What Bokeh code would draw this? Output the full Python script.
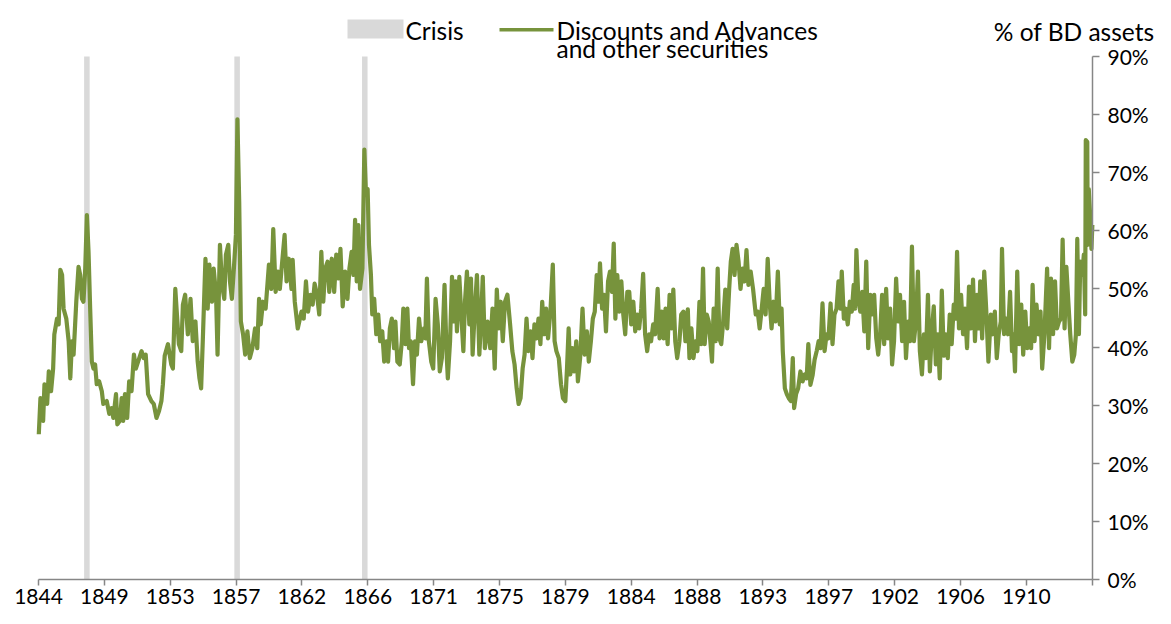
from bokeh.plotting import figure
from bokeh.models import FixedTicker, BoxAnnotation, Label, Range1d, PrintfTickFormatter
from bokeh.embed import file_html
from bokeh.resources import INLINE

# ---- data (fractional year, % of Banking Department assets) ----
years = [
    1844.72, 1844.83, 1845.01, 1845.10, 1845.28, 1845.39, 1845.54, 1845.68, 1845.76, 1845.94,
    1846.05, 1846.16, 1846.28, 1846.38, 1846.56, 1846.72, 1846.83, 1846.94, 1847.05, 1847.23,
    1847.38, 1847.49, 1847.61, 1847.71, 1847.83, 1847.94, 1848.05, 1848.16, 1848.27, 1848.38,
    1848.49, 1848.60, 1848.76, 1848.94, 1849.04, 1849.27, 1849.44, 1849.60, 1849.71, 1849.89,
    1849.98, 1850.15, 1850.27, 1850.37, 1850.49, 1850.64, 1850.77, 1850.93, 1851.09, 1851.22,
    1851.37, 1851.60, 1851.75, 1851.88, 1852.04, 1852.26, 1852.42, 1852.60, 1852.77, 1852.93,
    1853.03, 1853.15, 1853.37, 1853.59, 1853.70, 1853.86, 1853.97, 1854.10, 1854.26, 1854.37,
    1854.52, 1854.70, 1854.88, 1855.03, 1855.21, 1855.36, 1855.48, 1855.59, 1855.70, 1855.88,
    1856.03, 1856.14, 1856.32, 1856.43, 1856.59, 1856.69, 1856.85, 1856.99, 1857.14, 1857.25,
    1857.41, 1857.52, 1857.65, 1857.80, 1857.92, 1858.02, 1858.14, 1858.25, 1858.40, 1858.54,
    1858.69, 1858.85, 1859.02, 1859.20, 1859.35, 1859.47, 1859.58, 1859.73, 1859.91, 1860.13,
    1860.29, 1860.42, 1860.58, 1860.73, 1860.86, 1861.02, 1861.18, 1861.31, 1861.46, 1861.64,
    1861.72, 1861.86, 1862.06, 1862.31, 1862.46, 1862.61, 1862.75, 1862.91, 1863.06, 1863.19,
    1863.35, 1863.50, 1863.64, 1863.77, 1863.90, 1864.06, 1864.17, 1864.34, 1864.50, 1864.64,
    1864.79, 1864.92, 1865.07, 1865.23, 1865.39, 1865.52, 1865.67, 1865.79, 1865.90, 1866.01,
    1866.12, 1866.23, 1866.39, 1866.52, 1866.63, 1866.74, 1866.83, 1866.96, 1867.05, 1867.18,
    1867.32, 1867.45, 1867.58, 1867.72, 1867.85, 1868.00, 1868.11, 1868.23, 1868.36, 1868.51,
    1868.60, 1868.73, 1868.89, 1869.03, 1869.13, 1869.27, 1869.40, 1869.51, 1869.63, 1869.78,
    1869.91, 1870.04, 1870.18, 1870.33, 1870.51, 1870.60, 1870.71, 1870.84, 1871.00, 1871.13,
    1871.29, 1871.44, 1871.57, 1871.71, 1871.89, 1872.02, 1872.11, 1872.26, 1872.39, 1872.51,
    1872.62, 1872.72, 1872.88, 1872.99, 1873.15, 1873.26, 1873.39, 1873.55, 1873.66, 1873.77,
    1873.92, 1874.06, 1874.22, 1874.32, 1874.45, 1874.59, 1874.77, 1874.95, 1875.10, 1875.25,
    1875.39, 1875.52, 1875.65, 1875.79, 1875.94, 1876.10, 1876.28, 1876.43, 1876.58, 1876.72,
    1876.85, 1876.98, 1877.12, 1877.25, 1877.38, 1877.51, 1877.65, 1877.78, 1877.91, 1878.05,
    1878.18, 1878.31, 1878.43, 1878.56, 1878.69, 1878.82, 1878.98, 1879.14, 1879.26, 1879.38,
    1879.54, 1879.69, 1879.82, 1879.98, 1880.09, 1880.20, 1880.31, 1880.44, 1880.57, 1880.71,
    1880.82, 1880.97, 1881.13, 1881.27, 1881.42, 1881.55, 1881.69, 1881.82, 1881.95, 1882.08,
    1882.20, 1882.30, 1882.44, 1882.57, 1882.70, 1882.84, 1882.97, 1883.10, 1883.22, 1883.33,
    1883.46, 1883.59, 1883.73, 1883.86, 1883.99, 1884.13, 1884.26, 1884.39, 1884.53, 1884.66,
    1884.79, 1884.92, 1885.06, 1885.19, 1885.32, 1885.46, 1885.59, 1885.72, 1885.86, 1885.99,
    1886.16, 1886.29, 1886.43, 1886.56, 1886.69, 1886.83, 1886.96, 1887.09, 1887.21, 1887.34,
    1887.47, 1887.62, 1887.74, 1887.89, 1888.02, 1888.18, 1888.29, 1888.42, 1888.56, 1888.69,
    1888.82, 1888.96, 1889.07, 1889.20, 1889.31, 1889.45, 1889.58, 1889.69, 1889.80, 1889.91,
    1890.05, 1890.18, 1890.29, 1890.42, 1890.55, 1890.69, 1890.82, 1890.95, 1891.06, 1891.18,
    1891.31, 1891.44, 1891.58, 1891.71, 1891.84, 1891.98, 1892.11, 1892.24, 1892.39, 1892.55,
    1892.73, 1892.86, 1892.99, 1893.13, 1893.26, 1893.39, 1893.53, 1893.66, 1893.79, 1893.92,
    1894.06, 1894.21, 1894.34, 1894.46, 1894.54, 1894.68, 1894.81, 1894.94, 1895.08, 1895.21,
    1895.30, 1895.43, 1895.57, 1895.72, 1895.87, 1896.01, 1896.14, 1896.25, 1896.39, 1896.54,
    1896.67, 1896.81, 1896.94, 1897.07, 1897.20, 1897.34, 1897.47, 1897.60, 1897.74, 1897.87,
    1898.00, 1898.14, 1898.27, 1898.40, 1898.49, 1898.63, 1898.76, 1898.89, 1899.03, 1899.16,
    1899.29, 1899.38, 1899.47, 1899.60, 1899.73, 1899.86, 1900.00, 1900.13, 1900.26, 1900.40,
    1900.53, 1900.66, 1900.80, 1900.93, 1901.06, 1901.19, 1901.33, 1901.46, 1901.59, 1901.73,
    1901.86, 1901.99, 1902.13, 1902.26, 1902.39, 1902.53, 1902.66, 1902.79, 1902.93, 1903.06,
    1903.19, 1903.32, 1903.46, 1903.59, 1903.72, 1903.86, 1903.99, 1904.12, 1904.26, 1904.39,
    1904.52, 1904.65, 1904.79, 1904.92, 1905.05, 1905.19, 1905.32, 1905.45, 1905.59, 1905.72,
    1905.85, 1905.99, 1906.10, 1906.21, 1906.34, 1906.48, 1906.61, 1906.74, 1906.88, 1907.01,
    1907.14, 1907.28, 1907.41, 1907.54, 1907.67, 1907.76, 1907.89, 1908.03, 1908.16, 1908.31,
    1908.47, 1908.60, 1908.74, 1908.87, 1909.00, 1909.14, 1909.22, 1909.36, 1909.49, 1909.62,
    1909.76, 1909.89, 1909.98, 1910.09, 1910.24, 1910.37, 1910.51, 1910.64, 1910.78, 1910.91,
    1911.04, 1911.17, 1911.27, 1911.40, 1911.53, 1911.67, 1911.80, 1911.91, 1912.06, 1912.24,
    1912.37, 1912.50, 1912.64, 1912.77, 1912.90, 1913.04, 1913.17, 1913.28, 1913.41, 1913.53,
    1913.66, 1913.79, 1913.93, 1914.06, 1914.17, 1914.26, 1914.37, 1914.46, 1914.59, 1914.70,
    1914.79, 1914.83, 1914.93, 1914.96, 1915.03, 1915.12, 1915.21, 1915.27,
]

share = [
    25.0, 31.2, 27.3, 33.6, 30.2, 35.8, 32.4, 36.3, 42.2, 44.9,
    43.9, 53.3, 52.4, 46.6, 44.9, 41.0, 34.6, 41.0, 38.7, 47.8,
    53.8, 52.4, 48.3, 47.8, 53.5, 62.7, 56.4, 46.6, 37.5, 36.3,
    37.0, 33.6, 34.1, 32.4, 30.2, 30.7, 28.5, 29.5, 27.8, 31.9,
    26.7, 27.3, 31.2, 27.3, 31.9, 27.8, 34.1, 32.4, 38.7, 36.3,
    37.5, 39.3, 38.1, 38.7, 31.9, 30.7, 30.2, 27.8, 29.0, 30.7,
    33.6, 38.5, 40.5, 37.0, 36.3, 50.0, 45.6, 40.5, 39.3, 47.3,
    49.0, 42.2, 48.3, 41.0, 44.4, 37.5, 34.6, 32.9, 41.0, 55.2,
    46.6, 54.2, 47.8, 53.5, 49.0, 38.7, 57.6, 50.7, 48.3, 55.9,
    57.6, 51.3, 48.3, 54.2, 59.3, 79.2, 65.0, 44.4, 42.2, 38.7,
    42.7, 38.1, 39.8, 43.2, 39.8, 48.3, 43.9, 47.8, 46.6, 54.2,
    50.0, 60.3, 49.5, 53.0, 50.0, 54.7, 59.3, 51.3, 55.2, 50.0,
    55.0, 47.8, 43.2, 46.1, 44.9, 51.3, 46.1, 49.0, 47.3, 50.9,
    49.0, 45.6, 56.4, 47.8, 53.5, 54.7, 49.5, 55.2, 49.5, 55.9,
    51.8, 56.9, 47.0, 53.0, 48.3, 53.5, 56.4, 52.4, 61.9, 51.3,
    61.0, 50.0, 53.5, 74.0, 66.2, 67.2, 57.6, 52.4, 45.6, 48.3,
    42.2, 45.6, 41.0, 42.7, 37.5, 41.0, 37.5, 43.2, 44.9, 39.8,
    44.4, 37.5, 37.0, 41.0, 46.6, 40.5, 46.6, 39.8, 41.0, 33.6,
    41.0, 38.7, 44.9, 41.0, 43.2, 41.5, 51.8, 41.0, 37.5, 36.3,
    48.3, 43.9, 35.8, 38.1, 50.7, 39.3, 34.6, 41.0, 52.1, 44.4,
    51.3, 42.7, 52.1, 46.6, 39.3, 47.8, 53.0, 43.9, 51.8, 38.7,
    46.6, 52.4, 38.7, 43.9, 52.1, 39.8, 44.4, 39.8, 46.6, 36.3,
    49.9, 43.2, 47.8, 41.0, 47.8, 49.0, 43.9, 39.3, 37.0, 32.9,
    30.2, 31.2, 36.3, 38.7, 44.9, 39.3, 42.7, 38.1, 43.9, 41.5,
    44.9, 40.5, 47.8, 42.2, 46.6, 41.5, 46.1, 54.2, 41.0, 39.3,
    38.1, 33.6, 31.2, 30.7, 36.3, 43.2, 35.3, 39.8, 35.8, 41.0,
    34.1, 38.1, 46.6, 38.7, 42.7, 37.5, 41.0, 44.9, 46.1, 52.4,
    47.8, 54.4, 46.6, 49.0, 42.7, 51.3, 53.0, 49.5, 57.8, 44.9,
    52.4, 46.1, 51.3, 45.6, 42.2, 49.5, 49.5, 43.9, 47.8, 42.7,
    45.6, 43.2, 46.6, 52.6, 42.2, 39.3, 42.2, 41.0, 43.9, 42.2,
    50.0, 41.5, 46.1, 41.5, 46.6, 40.5, 49.0, 43.2, 49.9, 41.0,
    38.1, 41.0, 45.6, 46.1, 41.0, 46.5, 38.1, 43.2, 38.1, 41.0,
    39.3, 47.8, 40.5, 53.5, 40.5, 45.6, 44.4, 41.0, 37.5, 46.6,
    41.0, 53.5, 41.5, 40.5, 44.4, 49.9, 43.2, 50.0, 54.7, 56.9,
    52.4, 57.6, 54.7, 50.0, 53.5, 51.3, 56.7, 50.7, 53.0, 50.0,
    45.6, 46.1, 43.2, 46.6, 50.0, 45.6, 55.2, 47.8, 43.2, 47.8,
    44.4, 53.0, 43.9, 46.6, 39.3, 32.9, 31.9, 31.2, 30.7, 38.1,
    29.5, 31.9, 32.9, 35.8, 34.1, 35.3, 34.6, 40.5, 33.5, 35.2,
    37.8, 39.3, 41.0, 39.8, 47.5, 39.3, 42.2, 41.5, 47.5, 40.5,
    45.6, 46.6, 51.3, 46.6, 53.0, 44.9, 46.6, 43.9, 47.8, 46.1,
    50.7, 46.6, 56.7, 48.3, 46.1, 49.5, 42.7, 54.7, 39.8, 49.0,
    45.6, 49.0, 41.5, 38.7, 42.2, 49.0, 40.5, 50.0, 41.5, 46.6,
    37.0, 41.0, 51.8, 44.4, 49.0, 41.0, 47.8, 38.1, 44.4, 41.0,
    57.3, 41.0, 44.4, 53.0, 39.3, 35.3, 42.2, 38.1, 49.0, 35.8,
    42.7, 47.0, 37.0, 42.2, 34.6, 49.7, 38.5, 42.2, 38.1, 45.6,
    40.5, 47.3, 44.9, 56.4, 43.2, 49.0, 42.2, 46.6, 39.8, 50.4,
    43.2, 51.6, 41.0, 49.0, 43.2, 51.3, 41.5, 53.0, 46.6, 37.5,
    45.6, 42.2, 46.1, 38.1, 42.2, 44.4, 56.9, 42.2, 44.9, 42.2,
    49.5, 39.3, 42.2, 35.8, 53.0, 40.5, 47.3, 38.7, 46.1, 39.8,
    43.2, 39.8, 50.7, 41.0, 47.3, 42.2, 46.1, 36.3, 42.2, 53.5,
    39.8, 51.8, 42.2, 51.3, 43.2, 44.4, 44.9, 58.5, 43.2, 53.8,
    47.8, 42.2, 37.5, 38.7, 42.2, 58.6, 42.2, 54.7, 52.4, 55.9,
    45.6, 75.6, 75.3, 57.6, 67.2, 62.7, 56.9, 61.0,
]

crisis_years = [1847.94, 1858.00, 1866.55]

tick_labels = ["1844", "1849", "1853", "1857", "1862", "1866", "1871", "1875", "1879",
               "1884", "1888", "1893", "1897", "1902", "1906", "1910", ""]
pct_ticks = [0, 10, 20, 30, 40, 50, 60, 70, 80, 90]

# ---- layout constants ----
X0, X1 = 1844.70, 1915.28          # first / last category tick
STEP = 4.41
tick_pos = [round(X0 + STEP * k, 2) for k in range(len(tick_labels))]
FONT = "Lato"
AXIS_COL = "#868686"
GREEN = "#77933C"
W, H = 1155, 608
LEFT_PX, RIGHT_PX = 38, 1092       # screen x of first / last category
TOP_PX, ZERO_PX = 56, 579          # screen y of 90 % and 0 %
PX_PER_YEAR = (RIGHT_PX - LEFT_PX) / (X1 - X0)
XS = X0 - LEFT_PX / PX_PER_YEAR
XE = XS + W / PX_PER_YEAR
PX_PER_PCT = (ZERO_PX - TOP_PX) / 90.0
YE = 90 + TOP_PX / PX_PER_PCT
YS = -(H - ZERO_PX) / PX_PER_PCT

p = figure(width=W, height=H, output_backend="svg", toolbar_location=None,
           x_range=Range1d(XS, XE), y_range=Range1d(YS, YE),
           y_axis_location="right", min_border=0, outline_line_color=None,
           background_fill_color="white", border_fill_color="white")
p.xgrid.visible = False
p.ygrid.visible = False

# crisis bars and series
p.vbar(x=crisis_years, width=0.37, bottom=0, top=pct_ticks[-1],
       fill_color="#D9D9D9", line_color=None)
p.line(years, share, line_color=GREEN, line_width=4.2, line_join="round")

# value axis (right), pinned to the last category position
ya = p.yaxis[0]
ya.fixed_location = X1
ya.ticker = FixedTicker(ticks=pct_ticks)
ya.formatter = PrintfTickFormatter(format="%d%%")
ya.bounds = (0, 90)
ya.minor_tick_line_color = None
ya.major_tick_in = 0
ya.major_tick_out = 7
ya.axis_line_color = AXIS_COL
ya.major_tick_line_color = AXIS_COL
ya.axis_line_width = 1.5
ya.major_tick_line_width = 1.5
ya.major_label_text_font = FONT
ya.major_label_text_font_size = "21px"
ya.major_label_text_color = "black"
ya.major_label_standoff = 8

# category axis, pinned to 0 %
xa = p.xaxis[0]
xa.fixed_location = 0
xa.ticker = FixedTicker(ticks=tick_pos)
xa.major_label_overrides = {tp: lab for tp, lab in zip(tick_pos, tick_labels)}
xa.bounds = (X0, X1)
xa.minor_tick_line_color = None
xa.major_tick_in = 0
xa.major_tick_out = 6
xa.axis_line_color = AXIS_COL
xa.major_tick_line_color = AXIS_COL
xa.axis_line_width = 1.5
xa.major_tick_line_width = 1.5
xa.major_label_text_font = FONT
xa.major_label_text_font_size = "21px"
xa.major_label_text_color = "black"
xa.major_label_standoff = 3

# ---- legend & unit label (screen units from frame bottom-left) ----
p.add_layout(BoxAnnotation(left=347, right=403, bottom=570, top=589,
                           left_units="screen", right_units="screen",
                           bottom_units="screen", top_units="screen",
                           fill_color="#D9D9D9", fill_alpha=1, line_color=None))
p.add_layout(BoxAnnotation(left=499, right=553, bottom=577, top=580.5,
                           left_units="screen", right_units="screen",
                           bottom_units="screen", top_units="screen",
                           fill_color=GREEN, fill_alpha=1, line_color=None))
for txt, x, y, al in [("Crisis", 405, 578, "left"),
                      ("Discounts and Advances", 556, 578, "left"),
                      ("and other securities", 556, 560, "left"),
                      ("% of BD assets", 1154, 577, "right")]:
    p.add_layout(Label(x=x, y=y, x_units="screen", y_units="screen", text=txt,
                       text_font=FONT, text_font_size="24.5px", text_color="black",
                       text_baseline="middle", text_align=al))

open("out.html", "w").write(file_html(p, INLINE))
